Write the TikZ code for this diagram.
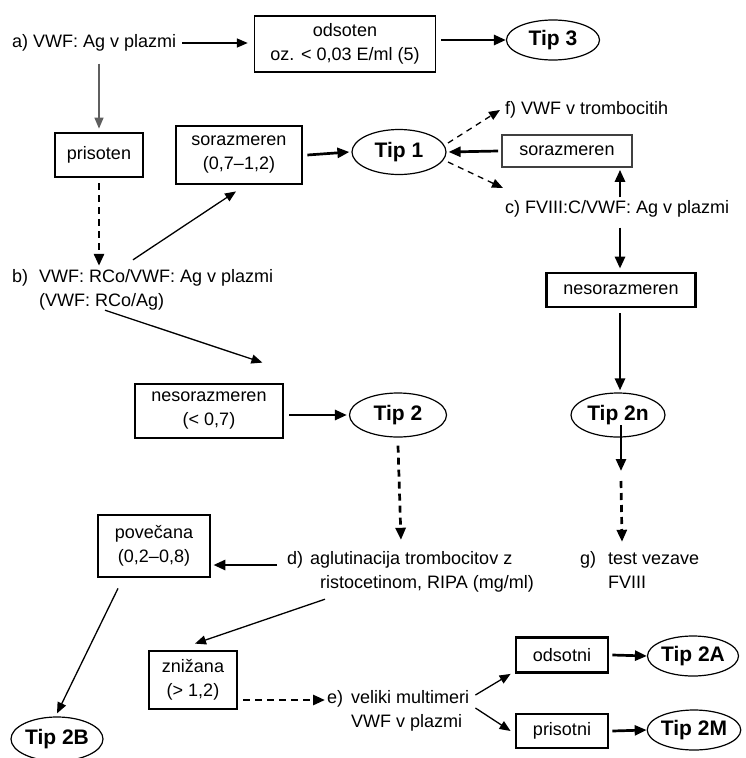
\documentclass[tikz,border=0pt]{standalone}
\usepackage{fontspec}
\setmainfont{Liberation Sans}
\usetikzlibrary{positioning, arrows.meta, shapes.geometric, calc}
\definecolor{linegray}{RGB}{95,95,95}
\tikzset{
  box/.style={
    draw, line width=2.8pt,
    align=center, inner sep=2pt
  },
  thinbox/.style={
    draw, line width=1.4pt,
    align=center, inner sep=2pt
  },
  tip/.style={
    ellipse, draw, line width=1.2pt, inner sep=0pt,
    font=\fontsize{21}{24}\selectfont\bfseries
  },
  txt/.style={anchor=west, align=left, inner sep=0pt},
  arr/.style={-{Triangle[length=12pt, width=10pt]}, line width=2.7pt},
  tarr/.style={-{Triangle[length=11pt, width=9pt]}, line width=1.3pt},
  darr/.style={arr, dash pattern=on 7pt off 5pt},
  dtarr/.style={tarr, dash pattern=on 6pt off 5pt}
}

\begin{document}
\begin{tikzpicture}[
  x=1pt, y=-1pt,
  font=\fontsize{18}{24}\selectfont,
]
\useasboundingbox (0,0) rectangle (745,758);

% a) VWF:Ag
\node[txt] (vwfag) at (12,43) {a) VWF: Ag v plazmi};
\node[thinbox, minimum width=181, minimum height=56] (odsoten) at (345,44) {odsoten\\oz. < 0,03 E/ml (5)};
\node[tip, minimum width=93, minimum height=40] (tip3) at (553,40) {Tip 3};
\node[box, minimum width=88, minimum height=44] (prisoten) at (99,155) {prisoten};

% b) VWF:RCo/Ag
\node[txt] (rcoag) at (12,290) {\begin{tabular}{@{}l@{\hspace{11pt}}l@{}}b) & VWF: RCo/VWF: Ag v plazmi\\ & (VWF: RCo/Ag)\end{tabular}};
\node[box, minimum width=126, minimum height=58] (sorazm) at (239,155) {sorazmeren\\(0,7--1,2)};
\node[tip, minimum width=94, minimum height=45] (tip1) at (399,152) {Tip 1};
\node[box, minimum width=148, minimum height=54] (nesorazm) at (209,411) {nesorazmeren\\(< 0,7)};
\node[tip, minimum width=97, minimum height=44] (tip2) at (398,415) {Tip 2};

% c), f) in g)
\node[txt] (tromb) at (505,110) {f) VWF v trombocitih};
\node[thinbox, draw=black!75, line width=1.6pt, minimum width=130, minimum height=32] (sorazmc) at (567,151) {sorazmeren};
\node[txt] (fviii) at (505,209) {c) FVIII:C/VWF: Ag v plazmi};
\node[box, minimum width=149, minimum height=34] (nesorazmc) at (621,290) {nesorazmeren};
\node[tip, minimum width=94, minimum height=44] (tip2n) at (618,415) {Tip 2n};
\node[txt] (vezava) at (580,572) {\begin{tabular}{@{}l@{\hspace{12pt}}l@{}}g) & test vezave\\ & FVIII\end{tabular}};

% d) RIPA
\node[txt] (ripa) at (287,572) {\begin{tabular}{@{}l@{\hspace{7pt}}l@{}}d) & aglutinacija trombocitov z\\ & \hspace*{10pt}ristocetinom, RIPA (mg/ml)\end{tabular}};
\node[box, minimum width=112, minimum height=62] (povecana) at (154,546) {povečana\\(0,2--0,8)};
\node[tip, minimum width=92, minimum height=44] (tip2b) at (57,739) {Tip 2B};
\node[box, minimum width=88, minimum height=58] (znizana) at (193,680) {znižana\\(> 1,2)};

% e) multimeri
\node[txt] (multi) at (327,711) {\begin{tabular}{@{}l@{\hspace{8pt}}l@{}}e) & veliki multimeri\\ & VWF v plazmi\end{tabular}};
\node[box, minimum width=92, minimum height=35] (odsotni) at (562,655) {odsotni};
\node[tip, minimum width=91, minimum height=40] (tip2a) at (693,656) {Tip 2A};
\node[box, minimum width=92, minimum height=34] (prisotni) at (562,731) {prisotni};
\node[tip, minimum width=92, minimum height=40] (tip2m) at (694,730) {Tip 2M};

% Povezave
\draw[tarr, line width=1.5pt] ([xshift=6pt]vwfag.east) -- ([xshift=-6pt]odsoten.west |- vwfag.east);
\draw[arr] ([xshift=5pt]odsoten.east |- tip3.west) -- (tip3.west);
\draw[tarr, draw=linegray] (vwfag.south -| prisoten.north) ++(0,12) -- ([yshift=3pt]prisoten.north);
\draw[darr] ([yshift=-5pt]prisoten.south) -- (rcoag.north -| prisoten.south);
\draw[tarr] ($(rcoag.north west)+(121,-6)$) -- ($(sorazm.south)+(-3,6)$);
\draw[arr] ([xshift=4pt]sorazm.east) -- ([xshift=-2pt]tip1.west);
\draw[dtarr] ($(tip1.center)+(49,-9)$) -- ($(tromb.west)+(-5,0)$);
\draw[dtarr] ($(tip1.center)+(49,10)$) -- ($(tromb.west)+(-2,78)$);
\draw[arr] ([xshift=-3pt]sorazmc.west) -- ([xshift=2pt]tip1.east);
\draw[arr] ($(fviii.north west)+(115,-3)$) -- ([yshift=-2pt]sorazmc.south -| 620,0);
\draw[arr] ($(fviii.south west)+(115,10)$) -- ([yshift=3pt]nesorazmc.north -| 620,0);
\draw[arr] ([yshift=-5pt]nesorazmc.south -| 620,0) -- ([yshift=2pt]tip2n.north -| 620,0);
\coordinate (tipend) at ($(tip2n.center)+(3,56)$);
\draw[arr] ($(tip2n.center)+(3,10)$) -- (tipend);
\draw[darr] ($(tipend)+(0,10)$) -- ($(vezava.north west)+(42,-6)$);
\draw[tarr] ($(rcoag.south west)+(93,-4)$) -- ($(nesorazm.north east)+(-22,-20)$);
\draw[arr] ([xshift=5pt]nesorazm.east |- tip2.west) -- ([xshift=-2pt]tip2.west);
\draw[darr] ([yshift=-8pt]tip2.south) -- ($(ripa.north west)+(114,-8)$);
\draw[arr] ($(ripa.west)+(-10,-7)$) -- ([xshift=2pt]povecana.east |- 0,565);
\draw[tarr] ($(povecana.south)+(-36,10)$) -- ([yshift=3pt]tip2b.north);
\draw[tarr] ($(ripa.south west)+(38,3)$) -- ($(znizana.north)+(2,-6)$);
\draw[darr] ([xshift=5pt]znizana.east |- multi.west) ++(0,-11) -- ($(multi.west)+(-2,-11)$);
\draw[tarr] ($(multi.east)+(6,-16)$) -- ([xshift=-4pt]odsotni.south west);
\draw[tarr] ($(multi.east)+(6,-3)$) -- ([xshift=-4pt]prisotni.west);
\draw[arr] ([xshift=3pt]odsotni.east) -- (tip2a.west);
\draw[arr] ([xshift=3pt]prisotni.east) -- (tip2m.west);

\end{tikzpicture}
\end{document}
